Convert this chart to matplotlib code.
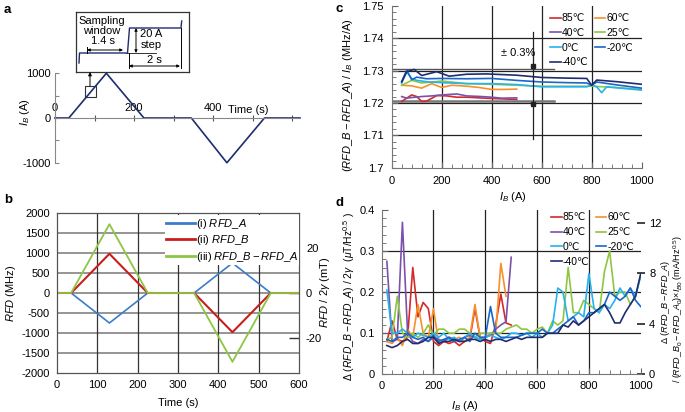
import matplotlib
matplotlib.use("Agg")
import matplotlib.pyplot as plt
import numpy as np
from matplotlib.patches import Rectangle
from matplotlib.ticker import MultipleLocator, FuncFormatter

plt.rcParams['font.family'] = ['Liberation Sans', 'DejaVu Sans']
plt.rcParams['axes.unicode_minus'] = False
plt.rcParams['mathtext.fontset'] = 'custom'
plt.rcParams['mathtext.rm'] = 'Liberation Sans'
plt.rcParams['mathtext.it'] = 'Liberation Sans:italic'
plt.rcParams['mathtext.bf'] = 'Liberation Sans:bold'

# ---------------- data ----------------
# panel a: current profile
a_time = [0, 35, 130, 225, 345, 435, 530, 620]
a_current = [0, 0, 1000, 0, 0, -1000, 0, 0]

# panel b: RFD responses
b_time = [0, 35, 130, 225, 340, 435, 530, 600]
b_rfd_a = [0, 0, -750, 0, 0, 750, 0, 0]
b_rfd_b = [0, 0, 980, 0, 0, -980, 0, 0]
b_diff = [0, 0, 1720, 0, 0, -1720, 0, 0]
b_labels = [r'(i) $\mathit{RFD\_A}$', r'(ii) $\mathit{RFD\_B}$',
            r'(iii) $\mathit{RFD\_B} - \mathit{RFD\_A}$']

# panel c: sensitivity vs current
temps = ['85℃', '60℃', '40℃', '25℃', '0℃', '-20℃', '-40℃']
colors = ['#d42a2a', '#f7902a', '#7b52ab', '#8dc641', '#25b2ee', '#1a66c9', '#1f2d6e']

c_x85 = [40, 60, 80, 100, 120, 140, 180, 220, 260, 300, 400, 500]
c_y85 = [1.7205, 1.7215, 1.7225, 1.7220, 1.7205, 1.7206, 1.7223, 1.7222, 1.7218, 1.7218, 1.7214, 1.7211]
c_x60 = [40, 80, 120, 160, 200, 240, 300, 350, 400, 450, 500]
c_y60 = [1.7255, 1.7253, 1.7246, 1.7260, 1.7248, 1.7255, 1.7252, 1.7248, 1.7242, 1.7242, 1.7243]
c_x40 = [40, 60, 80, 120, 160, 200, 260, 300, 360, 400, 440, 500]
c_y40 = [1.7220, 1.7215, 1.7217, 1.7220, 1.7222, 1.7225, 1.7228, 1.7222, 1.7220, 1.7218, 1.7215, 1.7216]
c_x25 = [40, 80, 120, 200, 300, 400, 500, 600, 700, 800, 900, 1000]
c_y25 = [1.7255, 1.7270, 1.7262, 1.7268, 1.7260, 1.7258, 1.7255, 1.7252, 1.7252, 1.7252, 1.7248, 1.7242]
c_x0 = [40, 60, 80, 100, 150, 200, 300, 400, 500, 600, 700, 780, 800, 820, 840, 860, 900, 1000]
c_y0 = [1.7262, 1.7296, 1.7276, 1.7270, 1.7265, 1.7263, 1.7260, 1.7260, 1.7257, 1.7250, 1.7250, 1.7250,
        1.7256, 1.7250, 1.7232, 1.7250, 1.7247, 1.7240]
c_xm20 = [40, 60, 80, 100, 140, 200, 300, 400, 500, 600, 700, 780, 800, 820, 900, 1000]
c_ym20 = [1.7265, 1.7302, 1.7272, 1.7280, 1.7275, 1.7276, 1.7275, 1.7276, 1.7270, 1.7265, 1.7263, 1.7262,
          1.7255, 1.7265, 1.7256, 1.7246]
c_xm40 = [40, 60, 90, 120, 180, 230, 300, 380, 500, 600, 700, 780, 800, 820, 900, 1000]
c_ym40 = [1.7266, 1.7297, 1.7304, 1.7285, 1.7297, 1.7283, 1.7289, 1.7290, 1.7286, 1.7279, 1.7277, 1.7276,
          1.7255, 1.7271, 1.7266, 1.7258]

# panel d: noise vs current
d_x_half = list(range(20, 520, 20))
d_x_60 = list(range(20, 500, 20))
d_x_full = list(range(20, 1020, 20))
d_85 = [0.08, 0.13, 0.085, 0.08, 0.09, 0.26, 0.14, 0.175, 0.16, 0.08, 0.07, 0.08, 0.075, 0.08, 0.07,
        0.08, 0.085, 0.16, 0.09, 0.08, 0.075, 0.12, 0.195, 0.125, 0.12]
d_60 = [0.08, 0.075, 0.09, 0.07, 0.11, 0.09, 0.17, 0.1, 0.09, 0.16, 0.075, 0.08, 0.09, 0.085, 0.09,
        0.08, 0.09, 0.17, 0.09, 0.09, 0.1, 0.1, 0.27, 0.19]
d_40 = [0.275, 0.08, 0.085, 0.37, 0.1, 0.08, 0.075, 0.085, 0.08, 0.09, 0.085, 0.08, 0.09, 0.085, 0.08,
        0.09, 0.095, 0.09, 0.085, 0.09, 0.095, 0.11, 0.12, 0.128, 0.285]
d_25 = [0.085, 0.09, 0.19, 0.1, 0.09, 0.1, 0.09, 0.1, 0.12, 0.095,
        0.11, 0.11, 0.1, 0.1, 0.11, 0.11, 0.1, 0.09, 0.1, 0.1,
        0.1, 0.1, 0.1, 0.11, 0.115, 0.12, 0.11, 0.11, 0.1, 0.11,
        0.115, 0.1, 0.13, 0.12, 0.13, 0.26, 0.15, 0.15, 0.18, 0.17,
        0.16, 0.15, 0.25, 0.3, 0.19, 0.2, 0.2, 0.17, 0.19, 0.24]
d_0 = [0.205, 0.1, 0.1, 0.11, 0.1, 0.09, 0.1, 0.095, 0.09, 0.1,
       0.09, 0.1, 0.085, 0.09, 0.08, 0.09, 0.1, 0.09, 0.085, 0.09,
       0.095, 0.09, 0.085, 0.09, 0.1, 0.1, 0.095, 0.1, 0.09, 0.1,
       0.09, 0.1, 0.12, 0.21, 0.2, 0.13, 0.14, 0.15, 0.14, 0.245,
       0.16, 0.15, 0.17, 0.16, 0.18, 0.21, 0.19, 0.21, 0.19, 0.24]
d_m20 = [0.085, 0.08, 0.09, 0.09, 0.1, 0.09, 0.085, 0.09, 0.08, 0.095,
         0.08, 0.085, 0.09, 0.08, 0.085, 0.09, 0.08, 0.1, 0.09, 0.09,
         0.165, 0.1, 0.09, 0.09, 0.09, 0.09, 0.095, 0.1, 0.1, 0.1,
         0.11, 0.1, 0.1, 0.11, 0.12, 0.13, 0.14, 0.12, 0.13, 0.15,
         0.15, 0.16, 0.17, 0.2, 0.19, 0.18, 0.19, 0.21, 0.18, 0.165]
d_m40 = [0.07, 0.065, 0.07, 0.08, 0.085, 0.075, 0.075, 0.08, 0.09, 0.09,
         0.075, 0.08, 0.08, 0.085, 0.08, 0.08, 0.085, 0.085, 0.08, 0.085,
         0.08, 0.085, 0.085, 0.08, 0.085, 0.09, 0.085, 0.09, 0.09, 0.09,
         0.09, 0.1, 0.1, 0.1, 0.12, 0.115, 0.13, 0.12, 0.13, 0.14,
         0.15, 0.16, 0.17, 0.15, 0.125, 0.125, 0.15, 0.17, 0.19, 0.245]

# ---------------- figure ----------------
W, H = 685, 412
fig = plt.figure(figsize=(W / 100, H / 100), dpi=100)


def ax_px(l, t, r, b):
    return fig.add_axes([l / W, 1 - b / H, (r - l) / W, (b - t) / H])


def fx(x):
    return x / W


def fy(y):
    return 1 - y / H


FS = 8
for lab, x, y in [('a', 4, 10), ('b', 4, 200), ('c', 336, 9), ('d', 336, 203)]:
    fig.text(fx(x), fy(y), lab, fontsize=9.5, fontweight='bold', va='center', ha='left')

# ---------------- panel a ----------------
axa = ax_px(55, 71, 300, 165)
axa.plot(a_time, a_current, color='#1f2d6e', lw=1.2, clip_on=False)
axa.set_xlim(0, 620)
axa.set_ylim(-1050, 1050)
for s in ['top', 'right']:
    axa.spines[s].set_visible(False)
axa.spines['bottom'].set_position(('data', 0))
axa.spines['left'].set_bounds(-1000, 1000)
axa.spines['bottom'].set_color('#888888')
axa.spines['left'].set_color('#888888')
axa.set_xticks(range(0, 700, 100))
axa.set_xticklabels(['0', '', '200', '', '400', '', ''])
axa.tick_params(axis='x', direction='inout', length=4, color='#555555', labelsize=FS, pad=-13)
axa.set_yticks([-1000, -500, 0, 500, 1000])
axa.set_yticklabels(['-1000', '', '0', '', '1000'])
axa.tick_params(axis='y', direction='in', length=3, color='#888888', labelsize=FS, pad=3)
axa.text(490, 75, 'Time (s)', fontsize=FS, ha='center', va='bottom')
fig.text(fx(25), fy(112), '$\\mathit{I}_{B}$ (A)', rotation=90, fontsize=FS, ha='center', va='center')
axa.add_patch(Rectangle((76, 473), 27, 240, fill=False, lw=0.8, ec='#333333', clip_on=False))

# inset box
axi = ax_px(76, 12, 189, 72)
axi.set_xlim(0, 113)
axi.set_ylim(60, 0)
axi.set_xticks([])
axi.set_yticks([])
for s in axi.spines.values():
    s.set_linewidth(0.9)
    s.set_color('#333333')
step_c = '#1f2d6e'
axi.plot([3, 3.5, 50], [51, 41, 41], color=step_c, lw=1.0)
axi.plot([51.5, 53.5, 105, 105.7], [41, 16, 16, 9], color=step_c, lw=1.0)
axi.plot([50, 80], [41, 41], color='#333333', lw=0.7)
ap = dict(arrowstyle='<|-|>', lw=0.7, color='black', shrinkA=0, shrinkB=0, mutation_scale=4)
axi.annotate('', xy=(11, 38), xytext=(47, 38), arrowprops=ap)
axi.plot([11, 11], [35, 41], color='black', lw=0.7)
axi.annotate('', xy=(60, 16), xytext=(60, 41), arrowprops=ap)
axi.annotate('', xy=(53, 54), xytext=(104, 54), arrowprops=ap)
axi.plot([52.5, 52.5], [41, 56], color='black', lw=0.7)
axi.plot([104.5, 104.5], [16, 56], color='black', lw=0.7)
axi.text(26, 8.5, 'Sampling', fontsize=FS, ha='center', va='center')
axi.text(26, 18.5, 'window', fontsize=FS, ha='center', va='center')
axi.text(27, 29.5, '1.4 s', fontsize=FS, ha='center', va='center')
axi.text(75, 22, '20 A', fontsize=FS, ha='center', va='center')
axi.text(75, 33, 'step', fontsize=FS, ha='center', va='center')
axi.text(78, 48, '2 s', fontsize=FS, ha='center', va='center')
fig.patches.append(matplotlib.patches.FancyArrowPatch(
    (fx(90), fy(86)), (fx(90), fy(72)), transform=fig.transFigure,
    arrowstyle='-|>', mutation_scale=5, lw=0.7, color='black', shrinkA=0, shrinkB=0))

# ---------------- panel b ----------------
axb = ax_px(57, 213, 299, 373)
axb.set_xlim(0, 600)
axb.set_ylim(-2000, 2000)
axb.set_yticks(range(-2000, 2001, 500))
axb.set_xticks(range(0, 601, 100))
for v in range(-1500, 2000, 500):
    axb.axhline(v, color='#8c8c8c', lw=1.3, zorder=0)
for v in range(100, 600, 100):
    axb.axvline(v, color='#333333', lw=0.9, zorder=0)
lb_a, = axb.plot(b_time, b_rfd_a, color='#3c7cc8', lw=1.2)
lb_b, = axb.plot(b_time, b_rfd_b, color='#c81e1e', lw=1.5)
lb_d, = axb.plot(b_time, b_diff, color='#8dc641', lw=1.3)
for s in axb.spines.values():
    s.set_color('#555555')
    s.set_linewidth(0.9)
axb.tick_params(labelsize=FS, length=0, pad=5)
leg = axb.legend([lb_a, lb_b, lb_d], b_labels, loc='upper left', bbox_to_anchor=(0.445, 0.985),
                 fontsize=FS, frameon=True, framealpha=1, edgecolor='none', facecolor='white',
                 handlelength=2.6, handletextpad=0.1, labelspacing=0.25, borderpad=0.1,
                 borderaxespad=0, fancybox=False)
for ln in leg.get_lines():
    ln.set_linewidth(2)
sec = axb.secondary_yaxis('right', functions=(lambda x: x / 56.0, lambda x: x * 56.0))
sec.set_yticks([-20, 0, 20])
sec.tick_params(direction='in', length=7, width=1, labelsize=FS, pad=5, color='#333333')
sec.spines['right'].set_visible(False)
fig.text(fx(178), fy(403), 'Time (s)', fontsize=FS, ha='center', va='center')
fig.text(fx(11), fy(293), r'$\mathit{RFD}$ (MHz)', rotation=90, fontsize=FS, ha='center', va='center')
fig.text(fx(325), fy(292), r'$\mathit{RFD}$ / 2$\gamma$ (mT)', rotation=90, fontsize=FS,
         ha='center', va='center')

# ---------------- panel c ----------------
axc = ax_px(391.7, 6, 641.7, 167.7)
axc.set_xlim(0, 1000)
axc.set_ylim(1.70, 1.75)
for v in [1.71, 1.72, 1.73, 1.74]:
    axc.axhline(v, color='#222222', lw=0.9, zorder=0)
for v in [200, 400, 600, 800]:
    axc.axvline(v, color='#222222', lw=0.9, zorder=0)
axc.plot([0, 650], [1.7305, 1.7305], color='#555555', lw=1.0, zorder=0)
axc.plot([0, 650], [1.7205, 1.7205], color='#777777', lw=1.8, zorder=0)
c_series = [(c_x85, c_y85), (c_x60, c_y60), (c_x40, c_y40), (c_x25, c_y25),
            (c_x0, c_y0), (c_xm20, c_ym20), (c_xm40, c_ym40)]
c_lines = []
for (xs, ys), col in zip(c_series, colors):
    ln, = axc.plot(xs, ys, color=col, lw=1.2)
    c_lines.append(ln)
for s in ['top', 'right']:
    axc.spines[s].set_visible(False)
for s in ['left', 'bottom']:
    axc.spines[s].set_color('#777777')
axc.set_xticks(range(0, 1001, 200))
axc.set_yticks([1.70, 1.71, 1.72, 1.73, 1.74, 1.75])
axc.yaxis.set_major_formatter(FuncFormatter(lambda v, p: '%g' % round(v, 2)))
axc.xaxis.set_minor_locator(MultipleLocator(40))
axc.yaxis.set_minor_locator(MultipleLocator(0.002))
axc.tick_params(which='both', direction='in', color='#666666', labelsize=FS, pad=6)
axc.tick_params(which='major', length=4)
axc.tick_params(which='minor', length=3)
# +-0.3 % marker
axc.plot([566, 566], [1.709, 1.7419], color='#222222', lw=0.9)
axc.plot([566, 566], [1.7315, 1.7197], ls='none', marker='s', ms=2.5, color='#222222')
axc.text(505, 1.7355, '± 0.3%', fontsize=FS, ha='center', va='center')
order = [0, 2, 4, 6, 1, 3, 5]
axc.legend([c_lines[i] for i in order], [temps[i] for i in order], ncol=2, loc='upper left',
           bbox_to_anchor=(0.635, 0.955), frameon=False, fontsize=7.5, handlelength=1.0,
           handletextpad=0.1, columnspacing=0.6, labelspacing=0.45, borderpad=0, borderaxespad=0)
fig.text(fx(348), fy(95), r'($\mathit{RFD\_B} - \mathit{RFD\_A}$) / $\mathit{I}_{B}$ (MHz/A)',
         rotation=90, fontsize=FS, ha='center', va='center')
fig.text(fx(513), fy(197), r'$\mathit{I}_{B}$ (A)', fontsize=FS, ha='center', va='center')

# ---------------- panel d ----------------
axd = ax_px(381.7, 210, 640.7, 374.3)
axd.set_xlim(0, 1000)
axd.set_ylim(0, 0.4)
for v in [0.1, 0.2, 0.3]:
    axd.axhline(v, color='#222222', lw=0.9, zorder=0)
for v in [200, 400, 600, 800]:
    axd.axvline(v, color='#222222', lw=0.9, zorder=0)
d_series = [(d_x_half, d_85), (d_x_60, d_60), (d_x_half, d_40), (d_x_full, d_25),
            (d_x_full, d_0), (d_x_full, d_m20), (d_x_full, d_m40)]
d_lines = []
for (xs, ys), col in zip(d_series, colors):
    ln, = axd.plot(xs, ys, color=col, lw=1.2)
    d_lines.append(ln)
for s in ['top', 'right']:
    axd.spines[s].set_visible(False)
for s in ['left', 'bottom']:
    axd.spines[s].set_color('#777777')
axd.set_xticks(range(0, 1001, 200))
axd.set_yticks([0, 0.1, 0.2, 0.3, 0.4])
axd.yaxis.set_major_formatter(FuncFormatter(lambda v, p: '%g' % round(v, 2)))
axd.xaxis.set_minor_locator(MultipleLocator(40))
axd.yaxis.set_minor_locator(MultipleLocator(0.02))
axd.tick_params(which='both', direction='in', color='#666666', labelsize=FS, pad=5)
axd.tick_params(which='major', length=4)
axd.tick_params(which='minor', length=3)
secd = axd.secondary_yaxis('right', functions=(lambda x: x * 32.5, lambda x: x / 32.5))
secd.set_yticks([0, 4, 8, 12])
secd.tick_params(direction='inout', length=6, width=1.2, labelsize=FS, pad=3, color='#222222')
secd.spines['right'].set_visible(False)
axd.legend([d_lines[i] for i in order], [temps[i] for i in order], ncol=2, loc='upper left',
           bbox_to_anchor=(0.655, 0.985), frameon=False, fontsize=7.5, handlelength=1.0,
           handletextpad=0.1, columnspacing=0.6, labelspacing=0.45, borderpad=0, borderaxespad=0)
fig.text(fx(349), fy(297),
         r'$\Delta$ ($\mathit{RFD\_B} - \mathit{RFD\_A}$) / 2$\gamma$  ($\mu$T/Hz$^{0.5}$ )',
         rotation=90, fontsize=7.5, ha='center', va='center')
fig.text(fx(665.5), fy(302), r'$\Delta$ ($\mathit{RFD\_B} - \mathit{RFD\_A}$)',
         rotation=90, fontsize=6.6, ha='center', va='center')
fig.text(fx(678.5), fy(309),
         r'/ ($\mathit{RFD\_B}_{0} - \mathit{RFD\_A}_{0}$)$\times\mathit{I}_{B0}$ (mA/Hz$^{0.5}$)',
         rotation=90, fontsize=6.5, ha='center', va='center')
fig.text(fx(465), fy(406), r'$\mathit{I}_{B}$ (A)', fontsize=FS, ha='center', va='center')

fig.savefig('out.png', dpi=100)
